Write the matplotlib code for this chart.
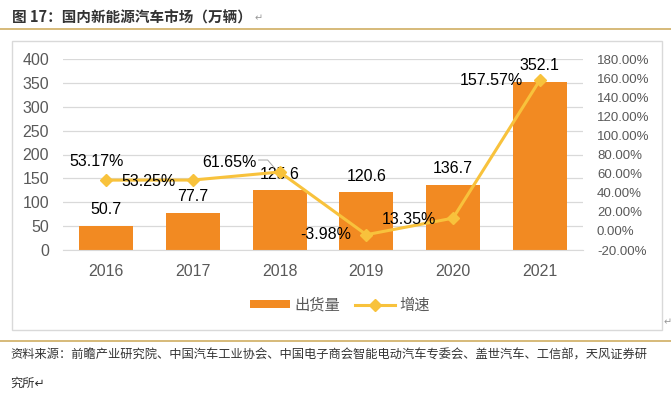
import numpy as np
import matplotlib
matplotlib.use('Agg')
import matplotlib.pyplot as plt
from matplotlib.patches import Rectangle
from matplotlib.lines import Line2D
from matplotlib.transforms import IdentityTransform

plt.rcParams['font.family'] = ['Liberation Sans', 'Noto Sans CJK SC', 'DejaVu Sans']

years = ['2016', '2017', '2018', '2019', '2020', '2021']
sales = [50.7, 77.7, 125.6, 120.6, 136.7, 352.1]
growth = [53.17, 53.25, 61.65, -3.98, 13.35, 157.57]
growth_labels = ['53.17%', '53.25%', '61.65%', '-3.98%', '13.35%', '157.57%']

title = '图 17：国内新能源汽车市场（万辆）'
source_1 = '资料来源：前瞻产业研究院、中国汽车工业协会、中国电子商会智能电动汽车专委会、盖世汽车、工信部，天风证券研'
source_2 = '究所'

bar_col = '#F28A22'
line_col = '#F8C23C'
tick_col = '#595959'
W, H = 671, 398

fig = plt.figure(figsize=(W / 100, H / 100), dpi=100)

def fx(px):
    return px / W

def fy(py):
    return 1 - py / H

# title + golden rules
fig.text(fx(12), fy(18), title, fontsize=10.5, fontweight='bold', color='#333333',
         family='Noto Sans CJK SC', va='center', ha='left')
fig.text(fx(255), fy(18), '\u21b5', fontsize=7, color='#999999', family='DejaVu Sans', va='center')
fig.add_artist(Line2D([0, 1], [fy(29), fy(29)], color='#CFAE62', lw=1.2))
fig.add_artist(Line2D([0, 1], [fy(341), fy(341)], color='#CFAE62', lw=1.2))
fig.add_artist(Rectangle((fx(12), fy(330)), fx(650), fy(41) - fy(330), fill=False,
                         edgecolor='#D9D9D9', lw=1))
fig.text(fx(664), fy(322), '\u21b5', fontsize=7, color='#999999', family='DejaVu Sans', va='center')

fig.text(fx(10), fy(355), source_1, fontsize=8.8, color='#333333', family='Noto Sans CJK SC',
         va='center', ha='left')
fig.text(fx(10), fy(383), source_2 + '\u21b5', fontsize=8.8, color='#333333',
         family=['Noto Sans CJK SC', 'DejaVu Sans'], va='center', ha='left')

ax = fig.add_axes([fx(63), fy(250), fx(583) - fx(63), fy(59) - fy(250)])
x = np.arange(len(years))
ax.bar(x, sales, width=0.62, color=bar_col, zorder=2, label='出货量')
ax.set_ylim(0, 400)
ax.set_yticks(np.arange(0, 401, 50))
ax.set_xlim(-0.5, len(years) - 0.5)
ax.set_xticks(x)
ax.set_xticklabels(years)
ax.grid(axis='y', color='#D9D9D9', lw=0.9, zorder=0)
for s in ['top', 'right', 'left']:
    ax.spines[s].set_visible(False)
ax.spines['bottom'].set_color('#D9D9D9')
ax.tick_params(axis='both', length=0, labelsize=11.5, colors=tick_col)
ax.tick_params(axis='x', pad=10)
ax.tick_params(axis='y', pad=10)

for xi, v in zip(x, sales):
    ax.annotate(f'{v}', xy=(xi, v), xytext=(0, 16), textcoords='offset pixels',
                ha='center', va='center', fontsize=11.5, color='black', zorder=5)

ax2 = ax.twinx()
ax2.plot(x, growth, color=line_col, lw=2.2, marker='D', ms=6.5, zorder=3, label='增速')
ax2.set_ylim(-20, 180)
ax2.set_yticks(np.arange(-20, 181, 20))
ax2.set_yticklabels([f'{t:.2f}%' for t in np.arange(-20, 181, 20)])
for s in ax2.spines.values():
    s.set_visible(False)
ax2.tick_params(axis='y', length=0, labelsize=9.5, colors=tick_col, pad=10)

offsets = [(-10, 19, 'center'), (-17, -1, 'right'), (-23, 10, 'right'),
           (-15, 0, 'right'), (-17, -1, 'right'), (-17, 0, 'right')]
for xi, g, lab, (dx, dy, ha) in zip(x, growth, growth_labels, offsets):
    ax2.annotate(lab, xy=(xi, g), xytext=(dx, dy), textcoords='offset pixels',
                 ha=ha, va='center', fontsize=11.5, color='black', zorder=5)

# leader line for the 61.65% label (pixel offsets from the 2018 point)
px, py = ax2.transData.transform((x[2], growth[2]))
fig.add_artist(Line2D([px - 21, px - 12, px - 6], [py + 12, py + 12, py + 5],
                      transform=IdentityTransform(), color='#A6A6A6', lw=0.7))

h1, l1 = ax.get_legend_handles_labels()
h2, l2 = ax2.get_legend_handles_labels()
leg = fig.legend(h1 + h2, l1 + l2, loc='center', bbox_to_anchor=(fx(340), fy(305)), ncol=2,
                 frameon=False, handlelength=2.6, handleheight=0.5,
                 columnspacing=1.0, handletextpad=0.3, labelcolor=tick_col,
                 prop={'family': 'Noto Sans CJK SC', 'size': 11})

fig.savefig('out.png', dpi=100)
